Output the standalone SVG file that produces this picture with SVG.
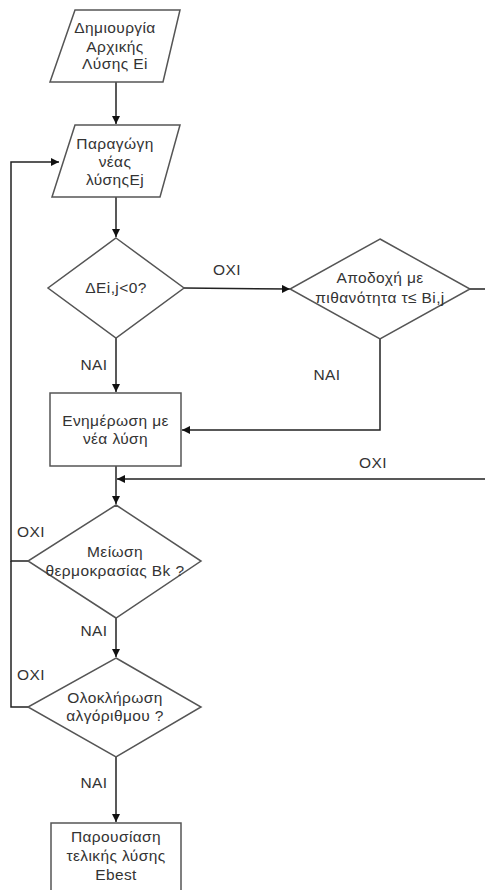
<svg xmlns="http://www.w3.org/2000/svg" width="485" height="890" viewBox="0 0 485 890">
  <style>
    .shape { fill: #ffffff; stroke: #555555; stroke-width: 1.5; }
    .txt { font-family: "Liberation Sans", Arial, sans-serif; font-size: 15.5px; letter-spacing: 0.4px; fill: #333333; text-anchor: middle; }
    .lbl { font-family: "Liberation Sans", Arial, sans-serif; font-size: 15.5px; letter-spacing: 0.4px; fill: #333333; text-anchor: middle; }
    .edge { fill: none; stroke: #222222; stroke-width: 1.5; }
  </style>
  <defs>
    <marker id="arrow" viewBox="0 0 10 10" refX="10" refY="5" markerWidth="8" markerHeight="8" markerUnits="userSpaceOnUse" orient="auto">
      <path d="M0,0 L10,5 L0,10 Z" fill="#111111"/>
    </marker>
  </defs>

  <rect width="485" height="890" fill="#ffffff"/>

  <!-- connectors -->
  <g id="connectors">
    <path class="edge" d="M116,82 L116,124" marker-end="url(#arrow)"/>
    <path class="edge" d="M116,197 L116,237" marker-end="url(#arrow)"/>
    <path class="edge" d="M116,338 L116,392" marker-end="url(#arrow)"/>
    <path class="edge" d="M184,288 L290,289" marker-end="url(#arrow)"/>
    <path class="edge" d="M380,339 L380,430 L182,430" marker-end="url(#arrow)"/>
    <path class="edge" d="M470,289 L495,289 L495,479 L117,479" marker-end="url(#arrow)"/>
    <path class="edge" d="M116,466 L116,504" marker-end="url(#arrow)"/>
    <path class="edge" d="M116,618 L116,657" marker-end="url(#arrow)"/>
    <path class="edge" d="M116,757 L116,822" marker-end="url(#arrow)"/>
    <path class="edge" d="M28,561 L11,561 L11,162 L59,162" marker-end="url(#arrow)"/>
    <path class="edge" d="M28,707 L11,707 L11,561"/>

    <text class="lbl" x="227" y="275">OXI</text>
    <text class="lbl" x="94" y="370">NAI</text>
    <text class="lbl" x="327" y="380">NAI</text>
    <text class="lbl" x="373" y="468">OXI</text>
    <text class="lbl" x="31" y="537">OXI</text>
    <text class="lbl" x="94" y="636">NAI</text>
    <text class="lbl" x="31" y="680">OXI</text>
    <text class="lbl" x="94" y="788">NAI</text>
  </g>

  <g id="create-initial">
    <polygon class="shape" points="75,10 180,10 163,82 50,82"/>
    <text class="txt" x="115" y="33">Δημιουργία</text>
    <text class="txt" x="115" y="52">Αρχικής</text>
    <text class="txt" x="115" y="69">Λύσης Ei</text>
  </g>

  <g id="generate-new">
    <polygon class="shape" points="75,125 180,125 160,197 52,197"/>
    <text class="txt" x="115" y="149">Παραγώγη</text>
    <text class="txt" x="115" y="167">νέας</text>
    <text class="txt" x="115" y="185">λύσηςEj</text>
  </g>

  <g id="delta-check">
    <polygon class="shape" points="116,238 184,288 116,338 48,288"/>
    <text class="txt" x="116" y="293">ΔEi,j&lt;0?</text>
  </g>

  <g id="accept-prob">
    <polygon class="shape" points="380,239 470,289 380,339 290,289"/>
    <text class="txt" x="380" y="283">Αποδοχή με</text>
    <text class="txt" x="380" y="303">πιθανότητα τ≤ Bi,j</text>
  </g>

  <g id="update">
    <rect class="shape" x="50" y="393" width="131" height="73"/>
    <text class="txt" x="115.5" y="426">Ενημέρωση με</text>
    <text class="txt" x="115.5" y="444">νέα λύση</text>
  </g>

  <g id="cool-down">
    <polygon class="shape" points="116,505 201,561 116,618 28,561"/>
    <text class="txt" x="115" y="557">Μείωση</text>
    <text class="txt" x="115" y="576">θερμοκρασίας Bk ?</text>
  </g>

  <g id="finished">
    <polygon class="shape" points="116,658 201,707 116,757 28,707"/>
    <text class="txt" x="115" y="703">Ολοκλήρωση</text>
    <text class="txt" x="115" y="721">αλγόριθμου ?</text>
  </g>

  <g id="result">
    <rect class="shape" x="51" y="823" width="130" height="80"/>
    <text class="txt" x="116" y="842">Παρουσίαση</text>
    <text class="txt" x="116" y="861">τελικής λύσης</text>
    <text class="txt" x="116" y="880">Ebest</text>
  </g>
</svg>
